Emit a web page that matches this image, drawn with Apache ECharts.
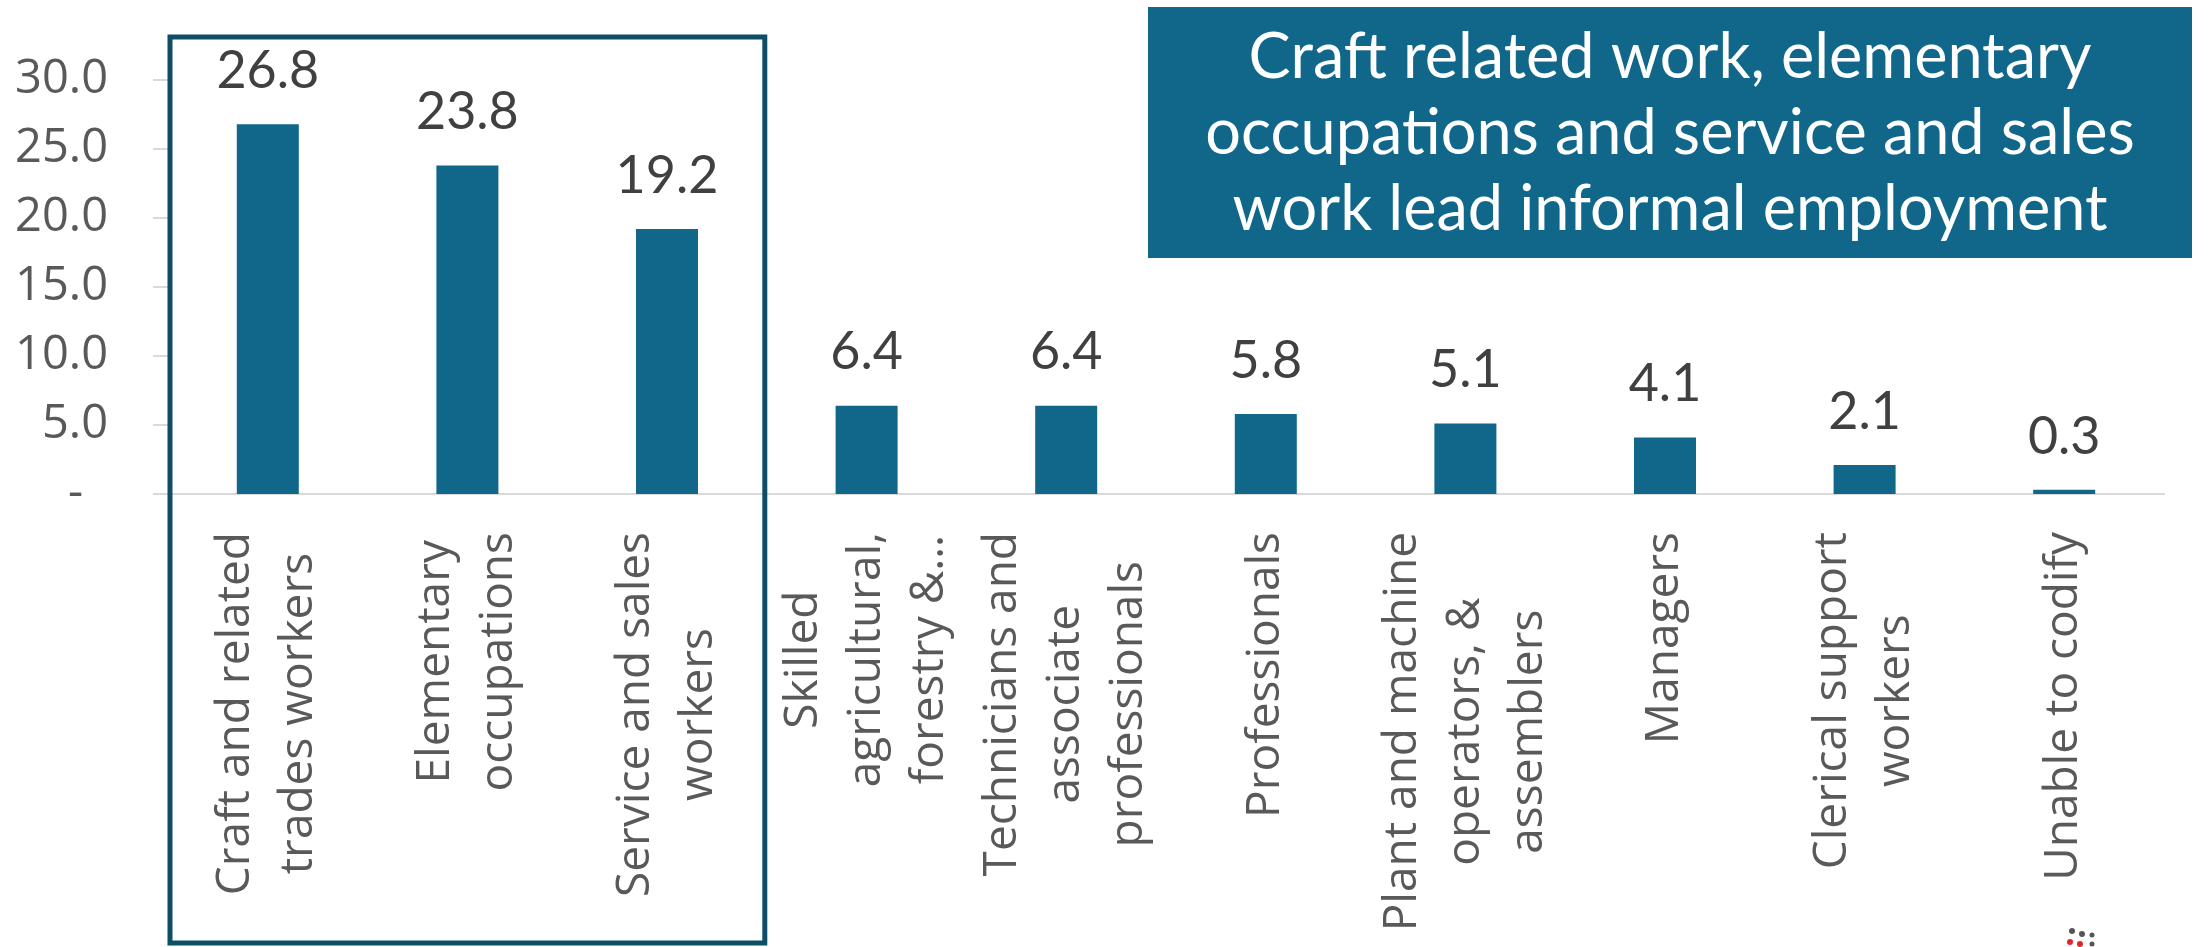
<!DOCTYPE html>
<html>
<head>
<meta charset="utf-8">
<script src="https://cdn.jsdelivr.net/npm/echarts@6/dist/echarts.min.js"></script>
<style>
  html, body { margin: 0; padding: 0; background: #fff; }
  #chart { width: 2208px; height: 947px; }
</style>
</head>
<body>
<div id="chart"></div>
<script>
// occupation groups, as wrapped on the axis
const categories = [
  'Craft and related\ntrades workers',
  'Elementary\noccupations',
  'Service and sales\nworkers',
  'Skilled\nagricultural,\nforestry &…',
  'Technicians and\nassociate\nprofessionals',
  'Professionals',
  'Plant and machine\noperators, &\nassemblers',
  'Managers',
  'Clerical support\nworkers',
  'Unable to codify'
]
// share of informal employment (%)
const shares = [26.8, 23.8, 19.2, 6.4, 6.4, 5.8, 5.1, 4.1, 2.1, 0.3]
const yTickLabels = ['-', '5.0', '10.0', '15.0', '20.0', '25.0', '30.0']
// the first three categories sit inside the outlined box
const boxedCount = 3
const headline = 'Craft related work, elementary\noccupations and service and sales\nwork lead informal employment'

const barColor = '#10678a'
const boxColor = '#0e4d66'
const labelFont = '"Open Sans", "Noto Sans", sans-serif'

const chart = echarts.init(document.getElementById('chart'))

const option = {
  animation: false,
  grid: {
    left: 168,
    right: 44,
    top: 80,
    bottom: 453,
    containLabel: false,
  },
  xAxis: {
    type: 'category',
    data: categories,
    axisLine: { lineStyle: { color: '#d9d9d9', width: 2 } },
    axisTick: { show: false },
    axisLabel: {
      interval: 0,
      rotate: 90,
      margin: 38,
      formatter: (v) => v.split('\n').map((s) => '{c|' + s + '}').join('\n'),
      rich: {
        c: {
          align: 'center',
          fontFamily: labelFont,
          fontSize: 46,
          lineHeight: 63,
          color: '#595959',
        },
      },
    },
  },
  yAxis: {
    type: 'value',
    min: 0,
    max: 30,
    interval: 5,
    axisLine: { show: false },
    axisTick: { show: true, length: 15, lineStyle: { color: '#d9d9d9', width: 2 } },
    splitLine: { show: false },
    axisLabel: {
      margin: 60,
      formatter: (v) => {
        const s = yTickLabels[Math.round(v / 5)]
        return v === 0 ? '{d|' + s + '}' : s
      },
      fontFamily: labelFont,
      fontSize: 47,
      color: '#595959',
      rich: {
        d: {
          fontFamily: labelFont,
          fontSize: 47,
          color: '#595959',
          padding: [0, 25, 0, 0],
        },
      },
    },
  },
  series: [
    {
      type: 'bar',
      data: shares,
      barWidth: 62,
      itemStyle: { color: barColor },
      label: {
        show: true,
        position: 'top',
        distance: 27,
        formatter: (p) => p.value.toFixed(1),
        fontFamily: 'Lato, sans-serif',
        fontSize: 52,
        color: '#404040',
      },
    },
  ],
}
chart.setOption(option)

// outline round the boxed categories, edges taken from the category bands
const c0 = chart.convertToPixel({ xAxisIndex: 0 }, 0)
const c1 = chart.convertToPixel({ xAxisIndex: 0 }, 1)
const band = c1 - c0
const boxLeft = c0 - band / 2
const boxRight = chart.convertToPixel({ xAxisIndex: 0 }, boxedCount - 1) + band / 2

chart.setOption({
  graphic: [
    {
      type: 'rect',
      z: 100,
      shape: { x: boxLeft + 2, y: 37, width: boxRight - boxLeft - 4, height: 906 },
      style: { fill: 'none', stroke: boxColor, lineWidth: 5 },
    },
    {
      type: 'group',
      z: 100,
      children: [
        {
          type: 'rect',
          shape: { x: 1148, y: 7, width: 1044, height: 251 },
          style: { fill: barColor },
        },
        {
          type: 'text',
          style: {
            x: 1670,
            y: 134,
            text: headline,
            align: 'center',
            verticalAlign: 'middle',
            fill: '#ffffff',
            font: '63px Lato, sans-serif',
            lineHeight: 76,
          },
        },
      ],
    },
    {
      // small logo mark cut off at the bottom right
      type: 'group',
      z: 100,
      children: [
        { type: 'circle', shape: { cx: 2072, cy: 931, r: 3 }, style: { fill: '#555' } },
        { type: 'circle', shape: { cx: 2082, cy: 934, r: 3 }, style: { fill: '#555' } },
        { type: 'circle', shape: { cx: 2092, cy: 935, r: 2.5 }, style: { fill: '#555' } },
        { type: 'circle', shape: { cx: 2070, cy: 942, r: 3 }, style: { fill: '#e3262b' } },
        { type: 'circle', shape: { cx: 2080, cy: 944, r: 3 }, style: { fill: '#e3262b' } },
        { type: 'circle', shape: { cx: 2092, cy: 944, r: 2.5 }, style: { fill: '#555' } },
      ],
    },
  ],
})
</script>
</body>
</html>
